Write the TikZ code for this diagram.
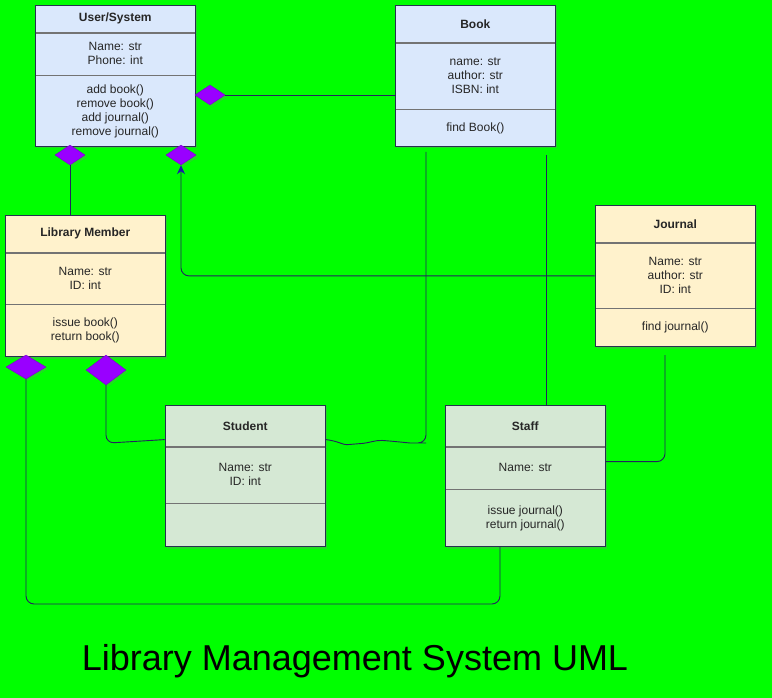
\documentclass[tikz,border=0pt]{standalone}
\usepackage{fontspec}
\setmainfont{Liberation Sans}
\usetikzlibrary{arrows.meta, positioning, shapes.geometric, shadows, fit}

\definecolor{bggreen}{HTML}{00FF00}
\definecolor{blueFill}{HTML}{DAE8FC}
\definecolor{yellowFill}{HTML}{FFF2CC}
\definecolor{greenFill}{HTML}{D5E8D4}
\definecolor{edge}{HTML}{24245E}
\definecolor{tipBlue}{HTML}{1A1AA8}
\definecolor{diamFill}{HTML}{9900FF}
\definecolor{diamLine}{HTML}{7A00CC}
\definecolor{boxLine}{HTML}{26314F}

\tikzset{
  cpart/.style={draw=black!55, line width=0.6pt, minimum width=160pt, inner sep=0pt, align=center,
    font=\fontsize{12}{14}\selectfont, text=black!85,
    drop shadow={shadow xshift=2pt, shadow yshift=-2pt, opacity=0.3}},
  chead/.style={cpart, font=\fontsize{12}{14}\selectfont\bfseries},
  classbox/.style={draw=boxLine, line width=0.8pt, inner sep=0pt},
  dmd/.style={diamond, fill=diamFill, draw=diamLine, inner sep=0pt,
    drop shadow={shadow xshift=2pt, shadow yshift=-2pt, opacity=0.25}},
  link/.style={draw=edge, line width=0.9pt, rounded corners=8pt},
}

\begin{document}
\begin{tikzpicture}[x=1pt, y=-1pt]

% background
\fill[bggreen] (0,0) rectangle (772,698);
\useasboundingbox (0,0) rectangle (772,698);

% nodes
\node[chead, fill=blueFill, minimum height=27pt, anchor=north west] (userHead) at (35,5) {User/System};
\node[cpart, fill=blueFill, minimum height=42pt, below=0pt of userHead] (userAttr) {Name: str\\Phone: int};
\node[cpart, fill=blueFill, minimum height=71pt, below=0pt of userAttr] (userOps) {add book()\\remove book()\\add journal()\\remove journal()};
\node[classbox, fit=(userHead)(userOps)] (user) {};

\node[chead, fill=blueFill, minimum height=37pt, anchor=north west] (bookHead) at (395,5) {Book};
\node[cpart, fill=blueFill, minimum height=66pt, below=0pt of bookHead] (bookAttr) {name: str\\author: str\\ISBN: int};
\node[cpart, fill=blueFill, minimum height=37pt, below=0pt of bookAttr] (bookOps) {find Book()};
\node[classbox, fit=(bookHead)(bookOps)] (book) {};

\node[chead, fill=yellowFill, minimum height=37pt, anchor=north west] (journalHead) at (595,205) {Journal};
\node[cpart, fill=yellowFill, minimum height=65pt, below=0pt of journalHead] (journalAttr) {Name: str\\author: str\\ID: int};
\node[cpart, fill=yellowFill, minimum height=38pt, below=0pt of journalAttr] (journalOps) {find journal()};
\node[classbox, fit=(journalHead)(journalOps)] (journal) {};

\node[chead, fill=yellowFill, minimum height=37pt, anchor=north west] (memberHead) at (5,215) {Library Member};
\node[cpart, fill=yellowFill, minimum height=51pt, below=0pt of memberHead] (memberAttr) {Name: str\\ID: int};
\node[cpart, fill=yellowFill, minimum height=52pt, below=0pt of memberAttr] (memberOps) {issue book()\\return book()};
\node[classbox, fit=(memberHead)(memberOps)] (member) {};

\node[chead, fill=greenFill, minimum height=41pt, anchor=north west] (studentHead) at (165,405) {Student};
\node[cpart, fill=greenFill, minimum height=56pt, below=0pt of studentHead] (studentAttr) {Name: str\\ID: int};
\node[cpart, fill=greenFill, minimum height=43pt, below=0pt of studentAttr] (studentOps) {};
\node[classbox, fit=(studentHead)(studentOps)] (student) {};

\node[chead, fill=greenFill, minimum height=41pt, anchor=north west] (staffHead) at (445,405) {Staff};
\node[cpart, fill=greenFill, minimum height=42pt, below=0pt of staffHead] (staffAttr) {Name: str};
\node[cpart, fill=greenFill, minimum height=57pt, below=0pt of staffAttr] (staffOps) {issue journal()\\return journal()};
\node[classbox, fit=(staffHead)(staffOps)] (staff) {};

% free ends
\coordinate (bookLeft) at (426,152);
\coordinate (bookRight) at (546,155);
\coordinate (journalLow) at (665,355);
\coordinate (staffLow) at (500,604);

% diamonds
\node[dmd, minimum width=30pt, minimum height=20pt] (userBookD) at (210,95) {};
\node[dmd, minimum width=30pt, minimum height=20pt] (userMemberD) at (70,155) {};
\node[dmd, minimum width=30pt, minimum height=20pt] (userJournalD) at (181,155) {};
\node[dmd, minimum width=40pt, minimum height=24pt] (memberStaffD) at (26,367) {};
\node[dmd, minimum width=40pt, minimum height=30pt] (memberStudentD) at (106,370) {};

% arrows
\draw[link] (userBookD.east) -- (userBookD.east -| book.west);
\draw[link] (userMemberD.south) -- (userMemberD.south |- member.north);
\draw[link, -{Stealth[length=9pt, width=8pt, color=tipBlue]}] (journal.west) -| (userJournalD.south);
\draw[link] (memberStaffD.south) |- (staffLow) -- (staffLow |- staff.south);
\draw[link] (memberStudentD.south) -- ++(0,58) -- ([yshift=-35pt]student.north west);
\draw[link] ([yshift=-35pt]student.north east) .. controls (338,441) and (343,445) .. (355,444)
  .. controls (368,443) and (376,440) .. (390,441) .. controls (400,442) and (410,443) .. (418,443)
  -- (426,443) -- (bookLeft);
\draw[link] (bookRight) -- (bookRight |- staff.north);
\draw[link] ([yshift=-57pt]staff.north east) -| (journalLow);

% title
\node[font=\fontsize{36}{40}\selectfont] (title) at (355,661) {Library Management System UML};

\end{tikzpicture}
\end{document}
